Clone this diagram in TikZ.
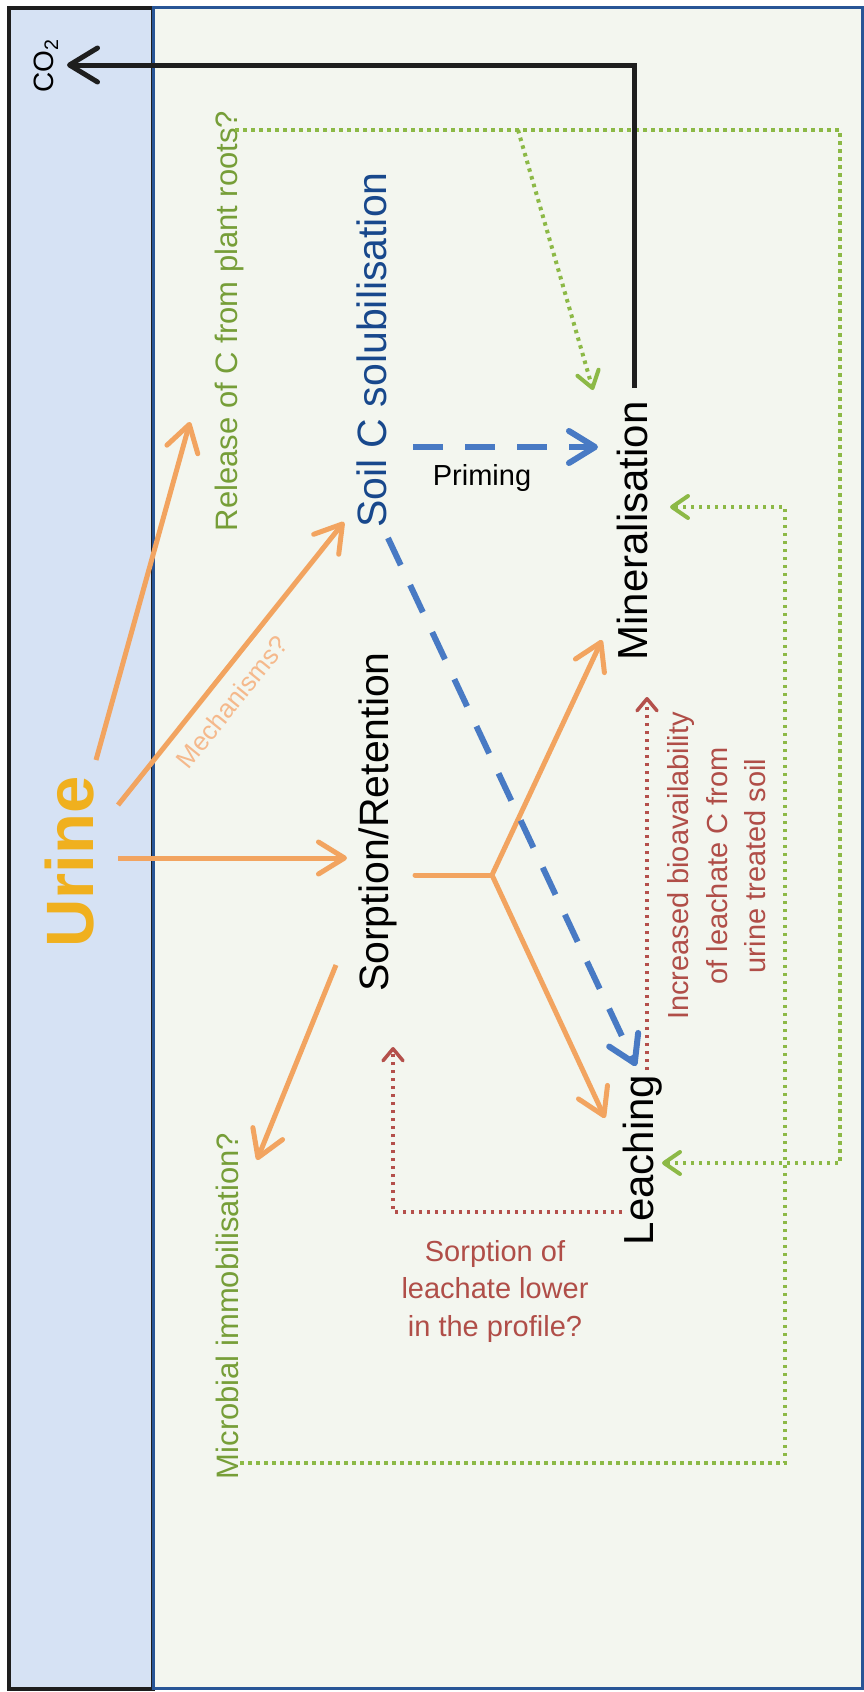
\documentclass[tikz,border=0pt]{standalone}
\usepackage{fontspec}
\setmainfont{Liberation Sans}
\usetikzlibrary{arrows.meta}
\definecolor{orangeA}{RGB}{242,164,96}
\definecolor{urineC}{RGB}{240,176,30}
\definecolor{blueA}{RGB}{72,122,196}
\definecolor{solC}{RGB}{24,72,140}
\definecolor{greenA}{RGB}{140,185,70}
\definecolor{greenT}{RGB}{118,158,56}
\definecolor{redA}{RGB}{180,80,75}
\definecolor{redT}{RGB}{176,78,72}
\definecolor{mechC}{RGB}{245,185,140}
\definecolor{leftfill}{RGB}{214,226,244}
\definecolor{mainfill}{RGB}{243,246,239}
\definecolor{frameb}{RGB}{40,85,150}
\definecolor{blackA}{RGB}{30,30,30}
\newcommand{\fsz}[1]{\fontsize{#1}{#1}\selectfont}
\begin{document}
\begin{tikzpicture}[x=1pt,y=-1pt,
  lbl/.style={inner sep=0pt, outer sep=0pt},
  rot/.style={lbl, rotate=90, anchor=base},
  oarr/.style={draw=orangeA, line width=5pt, -{Straight Barb[length=26pt,width=32pt,round]}},
  oline/.style={draw=orangeA, line width=5pt, line cap=round},
  barr/.style={draw=blueA, line width=6pt, dash pattern=on 30pt off 22pt, -{Straight Barb[length=26pt,width=32pt,round]}},
  garr/.style={draw=greenA, line width=4pt, dash pattern=on 3.5pt off 4.5pt, -{Straight Barb[length=16pt,width=22pt,round]}},
  rarr/.style={draw=redA, line width=3.5pt, dash pattern=on 3pt off 5pt, -{Straight Barb[length=12pt,width=20pt,round]}},
  karr/.style={draw=blackA, line width=5pt, -{Straight Barb[length=28pt,width=34pt,round]}},
]
\useasboundingbox (0,0) rectangle (864,1692);
\fill[white] (0,0) rectangle (864,1692);
\draw[line width=4pt, draw=blackA, fill=leftfill] (9,8) rectangle (153,1689);
\draw[line width=3pt, draw=frameb, fill=mainfill] (153,7) rectangle (862,1688);

% text nodes
\node[rot, font=\fsz{28}] (co2) at (53,66) {CO\textsubscript{2}};
\node[rot, font=\bfseries\fsz{67}, text=urineC] (urine) at (93,862) {Urine};
\node[rot, font=\fsz{31}, text=greenT] (release) at (237,321) {Release of C from plant roots?};
\node[rot, font=\fsz{41}, text=solC] (soil) at (386,350) {Soil C solubilisation};
\node[rot, font=\fsz{42}] (miner) at (647,531) {Mineralisation};
\node[rot, font=\fsz{41}] (sorp) at (388,822) {Sorption/Retention};
\node[rot, font=\fsz{42}] (leach) at (653,1160) {Leaching};
\node[rot, font=\fsz{31}, text=greenT] (micro) at (238,1306) {Microbial immobilisation?};
\node[lbl, anchor=base, font=\fsz{29}] (priming) at (482,485) {Priming};
\node[lbl, rotate=51, font=\fsz{26}, text=mechC] (mech) at (232,702) {Mechanisms?};
\node[lbl, rotate=90, align=center, font=\fontsize{29}{38.5}\selectfont, text=redT] (bio) at (717,866)
  {Increased bioavailability\\of leachate C from\\urine treated soil};
\node[lbl, align=center, font=\fontsize{29}{37.5}\selectfont, text=redT] (sorlow) at (495,1291)
  {Sorption of\\leachate lower\\in the profile?};

% connector end points
\coordinate (minT) at (634,388);
\coordinate (co2tip) at (67,65);
\coordinate (relT) at (235,130);
\coordinate (gR1) at (840,1163);
\coordinate (leaR) at (662,1163);
\coordinate (gbr) at (518,130);
\coordinate (minTL) at (593,390);
\coordinate (micT) at (240,1463);
\coordinate (gR2) at (785,507);
\coordinate (minR) at (670,507);
\coordinate (leaL) at (622,1212);
\coordinate (sorB) at (393,1047);
\coordinate (leaTop) at (647,1070);
\coordinate (minB) at (647,697);
\coordinate (solR) at (413,447);
\coordinate (minL) at (598,447);
\coordinate (solB) at (388,538);
\coordinate (leaT) at (636,1066);
\coordinate (u1) at (96,760);
\coordinate (relB) at (190,422);
\coordinate (u2) at (118,805);
\coordinate (solL) at (344,522);
\coordinate (u3) at (118,858);
\coordinate (sorL) at (347,858);
\coordinate (sorR) at (415,875);
\coordinate (fork) at (492,875);
\coordinate (minBL) at (602,640);
\coordinate (leaTL) at (605,1118);
\coordinate (sorBL) at (336,965);
\coordinate (micR) at (257,1160);

% green dotted
\draw[garr] (relT) -| (gR1) -- (leaR);
\draw[garr] (gbr) -- (minTL);
\draw[garr] (micT) -| (gR2) -- (minR);
% red dotted
\draw[rarr] (leaL) -| (sorB);
\draw[rarr] (leaTop) -- (minB);
% black CO2
\draw[karr] (minT) |- (co2tip);
% orange
\draw[oarr] (u1) -- (relB);
\draw[oarr] (u2) -- (solL);
\draw[oarr] (u3) -- (sorL);
\draw[oline] (sorR) -- (fork);
\draw[oarr] (fork) -- (minBL);
\draw[oarr] (fork) -- (leaTL);
\draw[oarr] (sorBL) -- (micR);
% blue dashed
\draw[barr] (solR) -- (minL);
\draw[barr] (solB) -- (leaT);
\end{tikzpicture}
\end{document}
